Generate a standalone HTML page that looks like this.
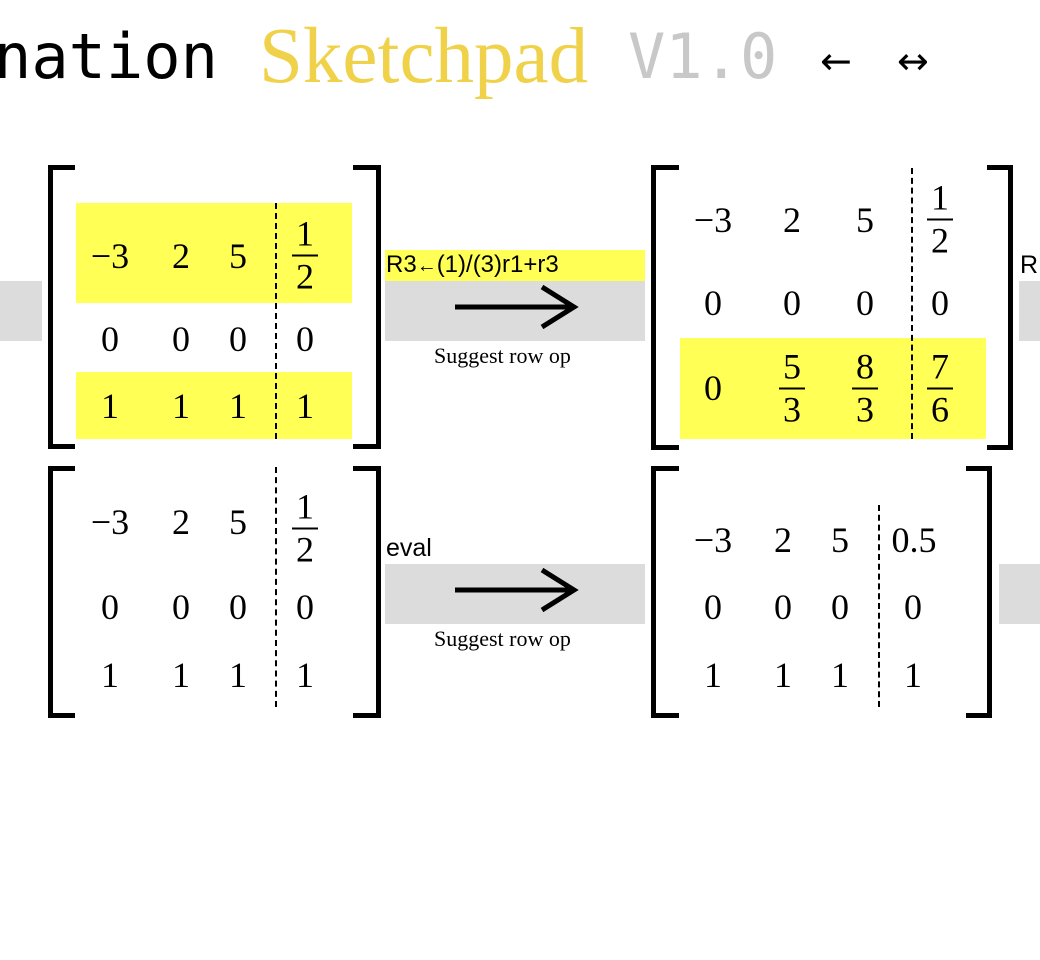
<!DOCTYPE html>
<html><head><meta charset="utf-8">
<style>
body{margin:0;width:1040px;height:960px;position:relative;overflow:hidden;background:#fff;font-family:"Liberation Serif",serif}
.a{position:absolute}
.t{position:absolute;white-space:nowrap;line-height:1}
.n{position:absolute;font-size:36px;line-height:36px;transform:translate(-50%,-50%);white-space:nowrap;color:#000}
.f{position:absolute;transform:translate(-50%,-50%);text-align:center;font-size:36px;line-height:34px}
.f .b{border-top:2px solid #000;margin:4px auto 3px auto;width:26px}
.gray{position:absolute;background:#dcdcdc}
.yel{position:absolute;background:#ffff55}
.dash{position:absolute;border-left:2px dashed #000;width:0}
.lab{position:absolute;font-family:'Liberation Sans',sans-serif;font-size:25px;line-height:28px;white-space:nowrap}
</style></head><body>
<div class="t" style="left:-6px;top:26px;font-family:'DejaVu Sans Mono',monospace;font-size:62px">nation</div>
<div class="t" style="left:259px;top:17px;font-family:'Liberation Serif',serif;color:#f0d24a;font-size:79px">Sketchpad</div>
<div class="t" style="left:628px;top:26px;font-family:'DejaVu Sans Mono',monospace;font-size:62px;color:#c8c8c8">V1.0</div>
<div class="t" style="left:820px;top:42px;font-family:'DejaVu Sans',sans-serif;font-size:38px">←</div>
<div class="t" style="left:897px;top:42px;font-family:'DejaVu Sans',sans-serif;font-size:38px">↔</div>

<div class="gray" style="left:0;top:281px;width:42px;height:60px"></div>
<div class="gray" style="left:385px;top:281px;width:260px;height:60px"></div>
<div class="gray" style="left:1019px;top:281px;width:21px;height:60px"></div>
<div class="gray" style="left:385px;top:564px;width:260px;height:60px"></div>
<div class="gray" style="left:999px;top:564px;width:41px;height:60px"></div>
<div class="yel" style="left:385px;top:250px;width:260px;height:31px"></div>
<div class="lab" style="left:386px;top:251px;font-size:24px">R3<span style="font-size:20px">←</span>(1)/(3)r1+r3</div>
<div class="lab" style="left:386px;top:534px">eval</div>
<div class="lab" style="left:1020px;top:251px">R</div>
<div class="a" style="left:434px;top:343px;font-size:22px;line-height:26px">Suggest row op</div>
<div class="a" style="left:434px;top:626px;font-size:22px;line-height:26px">Suggest row op</div>
<svg class="a" style="left:0;top:0" width="1040" height="960">
<g stroke="#000" stroke-width="5" fill="none">
<line x1="455" y1="307" x2="572" y2="307"/><polyline points="542,287 574,307 542,327"/>
<line x1="455" y1="590" x2="572" y2="590"/><polyline points="542,570 574,590 542,610"/>
</g></svg>

<div class="yel" style="left:76px;top:203px;width:276px;height:100px"></div>
<div class="yel" style="left:76px;top:372px;width:276px;height:67px"></div>
<div class="yel" style="left:680px;top:338px;width:306px;height:101px"></div>

<div id="m"></div>
<script>
var h='';
function br(x,y1,y2,side,s){
 var t=5;
 if(side=='L'){h+='<div class="a" style="left:'+x+'px;top:'+y1+'px;width:'+t+'px;height:'+(y2-y1)+'px;background:#000"></div>';
  h+='<div class="a" style="left:'+x+'px;top:'+y1+'px;width:'+s+'px;height:'+t+'px;background:#000"></div>';
  h+='<div class="a" style="left:'+x+'px;top:'+(y2-t)+'px;width:'+s+'px;height:'+t+'px;background:#000"></div>';}
 else{h+='<div class="a" style="left:'+(x-t)+'px;top:'+y1+'px;width:'+t+'px;height:'+(y2-y1)+'px;background:#000"></div>';
  h+='<div class="a" style="left:'+(x-s)+'px;top:'+y1+'px;width:'+s+'px;height:'+t+'px;background:#000"></div>';
  h+='<div class="a" style="left:'+(x-s)+'px;top:'+(y2-t)+'px;width:'+s+'px;height:'+t+'px;background:#000"></div>';}
}
function n(x,y,t){h+='<div class="n" style="left:'+x+'px;top:'+y+'px">'+t+'</div>';}
function f(x,y,a,b){h+='<div class="f" style="left:'+x+'px;top:'+y+'px"><div>'+a+'</div><div class="b"></div><div>'+b+'</div></div>';}
function d(x,y1,y2){h+='<div class="dash" style="left:'+(x-1)+'px;top:'+y1+'px;height:'+(y2-y1)+'px"></div>';}
br(48,165,449,'L',27);br(381,165,449,'R',28);d(276,203,439);
n(110,256,'−3');n(181,256,'2');n(238,256,'5');f(305,255,'1','2');
n(110,339,'0');n(181,339,'0');n(238,339,'0');n(305,339,'0');
n(110,406,'1');n(181,406,'1');n(238,406,'1');n(305,406,'1');
br(651,165,450,'L',28);br(1013,165,450,'R',26);d(912,168,439);
n(713,220,'−3');n(792,220,'2');n(865,220,'5');f(940,219,'1','2');
n(713,303,'0');n(792,303,'0');n(865,303,'0');n(940,303,'0');
n(713,388,'0');f(792,388,'5','3');f(865,388,'8','3');f(940,388,'7','6');
br(48,466,718,'L',27);br(381,466,718,'R',28);d(276,467,707);
n(110,522,'−3');n(181,522,'2');n(238,522,'5');f(305,528,'1','2');
n(110,607,'0');n(181,607,'0');n(238,607,'0');n(305,607,'0');
n(110,675,'1');n(181,675,'1');n(238,675,'1');n(305,675,'1');
br(651,466,718,'L',28);br(992,466,718,'R',26);d(879,505,707);
n(713,540,'−3');n(783,540,'2');n(840,540,'5');n(914,540,'0.5');
n(713,607,'0');n(783,607,'0');n(840,607,'0');n(913,607,'0');
n(713,675,'1');n(783,675,'1');n(840,675,'1');n(913,675,'1');
document.getElementById('m').innerHTML=h;
</script>
</body></html>
